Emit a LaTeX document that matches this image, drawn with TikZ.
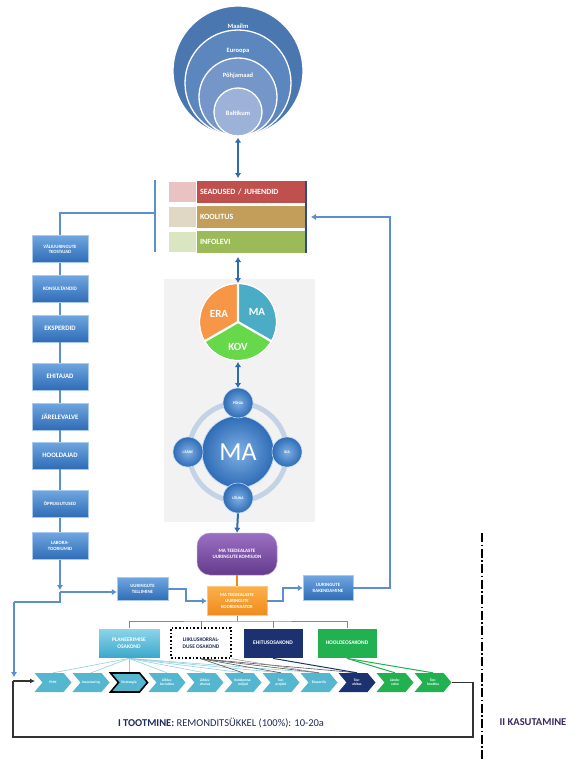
\documentclass[tikz,border=0pt]{standalone}
\usepackage{fontspec}
\setmainfont{Carlito}
\usetikzlibrary{arrows.meta,shapes.symbols,calc}
\newcommand\fsz[2]{\fontsize{#1}{#2}\selectfont}
\definecolor{w1}{HTML}{4A77B0}
\definecolor{w2}{HTML}{5B86BE}
\definecolor{w3}{HTML}{7596C8}
\definecolor{w4}{HTML}{9DB2D8}
\definecolor{arrowblue}{HTML}{2E6BAF}
\definecolor{lineblue}{HTML}{5B8FD0}
\definecolor{boxtop}{HTML}{6FA6E0}
\definecolor{boxbot}{HTML}{2E6CB6}
\definecolor{redbar}{HTML}{C0504D}
\definecolor{redsw}{HTML}{E8C3C2}
\definecolor{tanbar}{HTML}{C29E5A}
\definecolor{tansw}{HTML}{E0D8C4}
\definecolor{grnbar}{HTML}{9BBB59}
\definecolor{grnsw}{HTML}{DAE6C2}
\definecolor{panelgray}{HTML}{F2F2F2}
\definecolor{piema}{HTML}{4BACC6}
\definecolor{pieera}{HTML}{F79646}
\definecolor{piekov}{HTML}{66D84A}
\definecolor{ringcol}{HTML}{C3D2E4}
\definecolor{purpT}{HTML}{9B70C2}
\definecolor{purpB}{HTML}{643A8C}
\definecolor{orT}{HTML}{FBB04A}
\definecolor{orB}{HTML}{F08A1C}
\definecolor{cyanT}{HTML}{8ED6EA}
\definecolor{cyanB}{HTML}{3BA7CA}
\definecolor{navy}{HTML}{1C3270}
\definecolor{green}{HTML}{22B150}
\definecolor{chev}{HTML}{55B6D0}
\definecolor{fanblue}{HTML}{8FD0E4}
\definecolor{textnavy}{HTML}{1F2D5C}
\definecolor{kascol}{HTML}{3B2A5E}
\definecolor{bracketnavy}{HTML}{2F4A8A}
\begin{document}
\begin{tikzpicture}[x=1pt,y=-1pt,
  world/.style={circle, draw=white, line width=1.3pt, inner sep=0pt},
  wlabel/.style={text=white, font=\bfseries\fsz{6.5}{7}},
  dbl/.style={draw=arrowblue, line width=2.2pt, {Latex[length=5pt,width=6.5pt]}-{Latex[length=5pt,width=6.5pt]}},
  flow/.style={draw=lineblue, line width=1.8pt, -{Latex[length=5pt,width=6.5pt]}},
  plain/.style={draw=lineblue, line width=1.8pt},
  bluebox/.style={rectangle, draw=boxtop!60!white, line width=0.5pt, top color=boxtop, bottom color=boxbot, text=white, align=center, inner sep=1pt, minimum width=56pt, minimum height=27pt},
  swatch/.style={rectangle, draw=white, line width=1pt, minimum width=28pt, minimum height=21pt},
  bar/.style={rectangle, minimum width=109pt, minimum height=22pt, text width=103pt, align=left, text=white, font=\bfseries\fsz{8}{9}, inner sep=3pt},
  minicirc/.style={circle, shading=radial, inner color=boxtop!90!white, outer color=boxbot, draw=white!60!boxtop, line width=0.6pt, minimum size=30pt, inner sep=0pt, text=white, font=\bfseries\fsz{3.8}{4}},
  dept/.style={rectangle, minimum height=30pt, align=center, inner sep=1pt, font=\bfseries\fsz{5.5}{6.5}},
  chevron/.style={signal, signal from=west, signal to=east, signal pointer angle=100, minimum width=37pt, minimum height=19pt, inner sep=0pt, text=white, align=center, font=\bfseries\fsz{3.6}{4}},
  bus/.style={draw=lineblue, line width=1pt},
  loopline/.style={draw=black!80, line width=1.1pt}
]
\useasboundingbox (0,0) rectangle (574,760);
\fill[white] (0,0) rectangle (574,760);

% concentric world circles
\node[world, fill=w1, minimum size=130pt] (wc1) at (238,71) {};
\node[world, fill=w2, minimum size=106pt] (wc2) at (238,83) {};
\node[world, fill=w3, minimum size=78pt] (wc3) at (238,97) {};
\node[world, fill=w4, minimum size=48pt] (wc4) at (238,112) {};
\node[wlabel] (l1) at (238,26) {Maailm};
\node[wlabel] (l2) at (238,51) {Euroopa};
\node[wlabel] (l3) at (238,76) {Põhjamaad};
\node[wlabel] (l4) at (238,113) {Baltikum};

% legend
\node[swatch, fill=redsw] (sw1) at (182.5,192) {};
\node[swatch, fill=tansw] (sw2) at (182.5,217) {};
\node[swatch, fill=grnsw] (sw3) at (182.5,242) {};
\node[bar, fill=redbar] (b1) at (251.5,192) {SEADUSED / JUHENDID};
\node[bar, fill=tanbar] (b2) at (251.5,217) {KOOLITUS};
\node[bar, fill=grnbar] (b3) at (251.5,242) {INFOLEVI};
\coordinate (lbT) at (155,180);
\coordinate (lbB) at (155,252);
\coordinate (lbM) at (155,213);
\coordinate (rbT) at (306,181);
\coordinate (rbB) at (306,253);
\coordinate (rin) at (311,217);
\draw[draw=lineblue, line width=1.5pt] (lbT) -- (lbB);
\draw[draw=bracketnavy, line width=1.5pt] (rbT) -- (rbB);

\draw[dbl] (wc1.south) ++(0,1) -- (238,178);

% left column
\node[bluebox, font=\bfseries\fsz{4.8}{5.6}] (v1) at (60,249) {VÄLIUURINGUTE\\TEOSTAJAD};
\node[bluebox, font=\bfseries\fsz{5.2}{6}] (v2) at (60,289) {KONSULTANDID};
\node[bluebox, font=\bfseries\fsz{6.8}{7}] (v3) at (60,328.5) {EKSPERDID};
\node[bluebox, font=\bfseries\fsz{6.8}{7}] (v4) at (60,376.5) {EHITAJAD};
\node[bluebox, font=\bfseries\fsz{6.8}{7}] (v5) at (60,416.5) {JÄRELEVALVE};
\node[bluebox, font=\bfseries\fsz{6.8}{7}] (v6) at (60,455.5) {HOOLDAJAD};
\node[bluebox, font=\bfseries\fsz{4.8}{5.6}] (v7) at (60,504) {ÕPPEASUTUSED};
\node[bluebox, font=\bfseries\fsz{4.8}{5.6}] (v8) at (60,546) {LABORA-\\TOORIUMID};
\draw[plain] (lbM) -| (v1.north);
\foreach \a/\b in {v1/v2,v2/v3,v3/v4,v4/v5,v5/v6,v6/v7,v7/v8}
  \draw[plain] (\a.south) -- (\b.north);

% panel
\node[fill=panelgray, minimum width=151pt, minimum height=243pt, anchor=north west, inner sep=0pt] (panel) at (164,279) {};
\draw[dbl] (238,257) -- (238,283);

% pie
\coordinate (pc) at (238,322);
\fill[piema] (pc) -- ++(-90:38) arc[start angle=-90, end angle=30, radius=38] -- cycle;
\fill[pieera] (pc) -- ++(-90:38) arc[start angle=-90, end angle=-210, radius=38] -- cycle;
\fill[piekov] (pc) -- ++(150:38) arc[start angle=150, end angle=30, radius=38] -- cycle;
\draw[white, line width=2.2pt] (pc) -- ++(-90:39) (pc) -- ++(30:39) (pc) -- ++(150:39);
\draw[white, line width=1.2pt] (pc) circle[radius=38.5];
\node[text=white, font=\bfseries\fsz{11}{12}] (era) at (219,314) {ERA};
\node[text=white, font=\bfseries\fsz{11}{12}] (mat) at (257,312) {MA};
\node[text=white, font=\bfseries\fsz{11}{12}] (kov) at (238,347) {KOV};

\draw[dbl] (238,362) -- (238,388);

% compass
\coordinate (cc) at (238,452);
\draw[ringcol, line width=5pt] (cc) circle[radius=49];
\node[circle, shading=radial, inner color=boxtop!90!white, outer color=boxbot, draw=white!60!boxtop, line width=0.8pt, minimum size=72pt, inner sep=0pt, text=white, font=\fsz{26}{26}] (ma) at (cc) {MA};
\node[minicirc] (pohi) at (238,403) {PÕHJA};
\node[minicirc] (laas) at (188,452) {LÄÄNE};
\node[minicirc] (ida) at (287,452) {IDA};
\node[minicirc] (louna) at (238,498) {LÕUNA};

% purple & orange
\node[rectangle, rounded corners=13pt, top color=purpT, bottom color=purpB, draw=purpT!70!white, line width=0.5pt, minimum width=80pt, minimum height=42pt, text=white, align=center, font=\bfseries\fsz{5}{6}] (kom) at (237,554) {MA TEEDEALASTE\\UURINGUTE KOMISJON};
\draw[draw=arrowblue, line width=2pt, -{Latex[length=5pt,width=6.5pt]}] (louna.south) -- (kom.north);
\node[rectangle, top color=orT, bottom color=orB, draw=orT!70!white, line width=0.5pt, minimum width=60pt, minimum height=29pt, text=white, align=center, font=\bfseries\fsz{4.6}{5.6}] (koord) at (237,601) {MA TEEDEALASTE\\UURINGUTE\\KOORDINAATOR};
\draw[draw=orB, line width=2.5pt] (kom.south) -- (koord.north);

\node[bluebox, minimum width=51pt, minimum height=23pt, font=\bfseries\fsz{4.8}{5.6}] (tel) at (142.5,589) {UURINGUTE\\TELLIMINE};
\node[bluebox, minimum width=50pt, minimum height=25pt, font=\bfseries\fsz{4.8}{5.6}] (rak) at (328,588) {UURINGUTE\\RAKENDAMINE};

% left column junction
\coordinate (jdown) at (60,590);
\coordinate (jmid) at (60,592);
\coordinate (jlow) at (60,602);
\coordinate (lc) at (14,602);
\coordinate (blueend) at (14,677);
\draw[flow] (v8.south) -- (jdown);
\draw[flow] (jmid) -- (jmid -| tel.west);
\draw[plain] (jmid) -- (jlow) -- (lc);
\draw[flow] (lc) -- (blueend);
\draw[flow] (tel.east) -- ++(18,0) |- (koord.west);
\draw[flow] (koord.east) -- ++(16,0) |- (rak.west);
\draw[flow] (rak.east) -- (390,588) |- (rin);

% departments
\node[dept, top color=cyanT, bottom color=cyanB, draw=white, line width=0.8pt, minimum width=62pt, text=white] (pl) at (129,643) {PLANEERIMISE\\OSAKOND};
\node[dept, fill=white, draw=black, line width=1.6pt, dotted, minimum width=60pt, text=textnavy] (li) at (201,643) {LIIKLUSKORRAL-\\DUSE OSAKOND};
\node[dept, fill=navy, draw=white, line width=0.8pt, minimum width=60pt, text=white] (eh) at (273,643) {EHITUSOSAKOND};
\node[dept, fill=green, draw=white, line width=0.8pt, minimum width=60pt, text=white] (ho) at (347,643) {HOOLDEOSAKOND};
\coordinate (busc) at (237,621);
\draw[bus] (koord.south) -- (busc);
\draw[bus] (pl.north) |- (busc) -| (ho.north);
\draw[bus] (li.north) -- (li.north |- busc);
\draw[bus] (eh.north) -- (eh.north |- busc);

% chevrons
\node[chevron, fill=chev] (c1) at (53,682.5) {PMK};
\node[chevron, fill=chev] (c2) at (91,682.5) {Investeering};
\node[chevron, fill=chev, draw=black, line width=1.6pt] (c3) at (129,682.5) {Strateegia};
\node[chevron, fill=chev] (c4) at (167,682.5) {Liiklus-\\korraldus};
\node[chevron, fill=chev] (c5) at (205,682.5) {Liiklus-\\ohutus};
\node[chevron, fill=chev] (c6) at (243,682.5) {Keskkonna-\\mõjud};
\node[chevron, fill=chev] (c7) at (281,682.5) {Tee-\\projekt};
\node[chevron, fill=chev] (c8) at (319,682.5) {Ekspertiis};
\node[chevron, fill=navy] (c9) at (357,682.5) {Tee-\\ehitus};
\node[chevron, fill=green] (c10) at (395,682.5) {Järele-\\valve};
\node[chevron, fill=green] (c11) at (433,682.5) {Tee-\\hooldus};

% fan lines
\foreach \c in {c1,c2,c3,c4,c5,c6,c7,c8}
  \draw[fanblue, line width=0.6pt] (pl.south) -- (\c.north);
\foreach \c in {c6,c7,c8,c9}
  \draw[black!65, line width=0.6pt] (li.south) -- (\c.north);
\draw[black!45, line width=0.5pt] (li.south east) -- (c8.north);
\draw[navy, line width=1pt] (eh.south) -- (c9.north);
\draw[green, line width=1pt] (ho.south) -- (c10.north);
\draw[green, line width=1pt] (ho.south) -- (c11.north);

% production loop
\coordinate (lpA) at (473,682.5);
\coordinate (lpB) at (473,737);
\coordinate (lpC) at (13,737);
\coordinate (lpD) at (13,681);
\coordinate (lpIn) at (35,681);
\draw[loopline] (c11.east) -- (lpA) -- (lpB) -- (lpC) -- (lpD);
\draw[loopline, -{Latex[length=5pt,width=5pt]}] (lpD) -- (lpIn);

\node[text=textnavy, font=\fsz{10.5}{12}] (tootmine) at (221,723) {\textbf{I TOOTMINE:} REMONDITSÜKKEL (100\%): 10-20a};

% phase divider
\coordinate (dvT) at (482,533);
\coordinate (dvB) at (482,760);
\draw[black, line width=1.1pt, dash pattern=on 9pt off 2.5pt on 1.5pt off 2.5pt] (dvT) -- (dvB);
\node[text=kascol, font=\bfseries\fsz{10.5}{12}] (kasut) at (533,722) {II KASUTAMINE};
\end{tikzpicture}
\end{document}
